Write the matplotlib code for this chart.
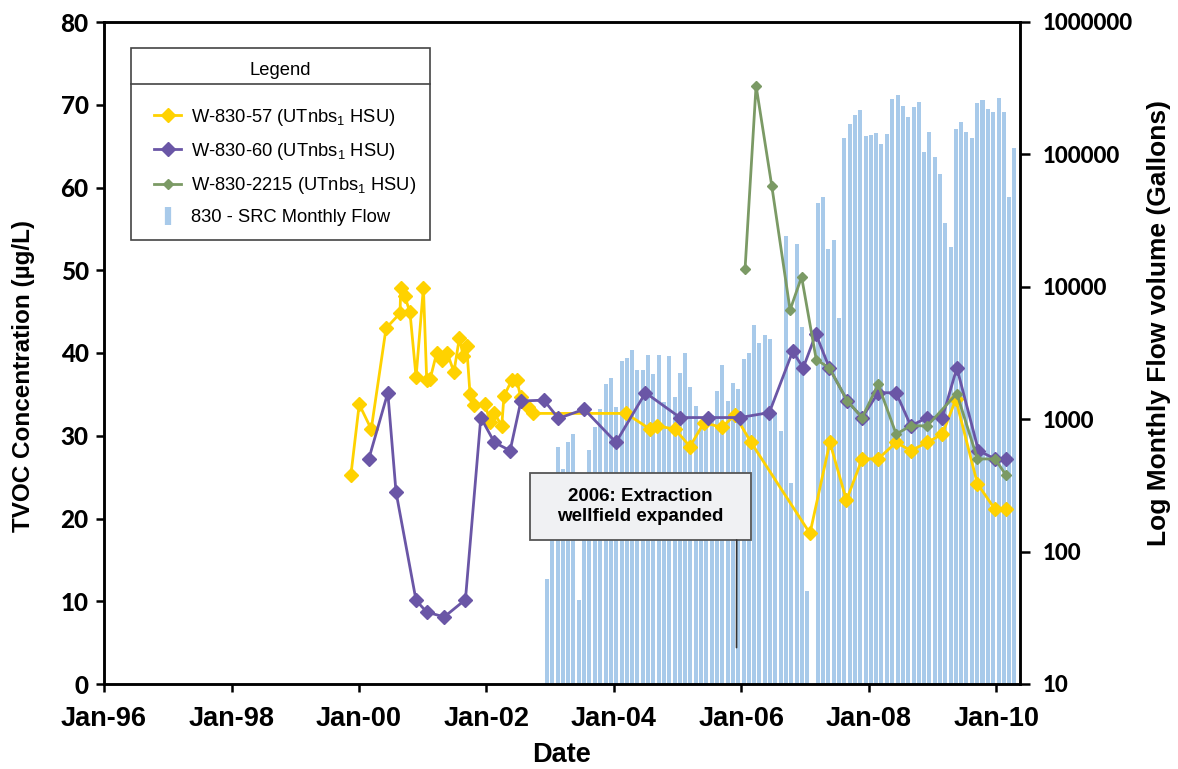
import matplotlib
matplotlib.use('Agg')
import matplotlib.pyplot as plt
from matplotlib.lines import Line2D
from matplotlib.patches import Rectangle
from matplotlib.legend_handler import HandlerLine2D
from matplotlib.ticker import NullLocator, FuncFormatter
import numpy as np
import pandas as pd

plt.rcParams.update({
    'font.family': ['Liberation Sans', 'DejaVu Sans'],
    'axes.linewidth': 1.8,
    'mathtext.fontset': 'custom',
    'mathtext.rm': 'Liberation Sans',
})

NARROW = ['Liberation Sans Narrow', 'Liberation Sans', 'DejaVu Sans']
HEAVY = ['Lato', 'Liberation Sans', 'DejaVu Sans']

YELLOW = '#FFD200'
PURPLE = '#6A56A6'
GREEN = '#7B9A65'
BLUE = '#A8CAEA'

# ---- monthly flow (gallons), Dec 2002 .. Apr 2010, nan = no record ----
flow_first_month = '2002-12-01'
flow_gallons = [61, 392, 617, 421, 673, 773, 42, 245, 585, 873,
                1194, 1845, 2047, 1236, 2752, 2900, 3333, 2353, 2353, 3055,
                2195, 3055, 1349, 3000, 1471, 2233, 3162, 1750, 1259, 858,
                904, 1076, 1633, 2566, 1372, 1877, 1690, 2849, 3162, 5142,
                3764, 4325, 4035, 1095, 814, 24200, 330, 21040, 4970, 49,
                np.nan, 42950, 47650, 19310, 22550, 5810, 133000, 169800, 198600, 216500,
                137700, 140200, 145200, 119900, 142600, 261900, 281000, 232200, 191600, 228100,
                248800, 104200, 147700, 95500, 71100, 30300, 20000, 155500, 175800, 147700,
                133000, 244300, 257600, 220300, 209000, 266700, 209000, 47650, 111700]

# ---- TVOC (ug/L) ----
w57_dates = ['1999-11-16', '2000-01-03', '2000-03-12', '2000-06-05', '2000-08-24',
             '2000-08-28', '2000-09-20', '2000-10-20', '2000-11-24', '2001-01-05',
             '2001-01-24', '2001-02-12', '2001-03-22', '2001-04-20', '2001-05-22',
             '2001-06-29', '2001-07-30', '2001-08-22', '2001-09-10', '2001-09-29',
             '2001-10-22', '2001-12-24', '2002-01-22', '2002-02-14', '2002-03-30',
             '2002-04-12', '2002-05-26', '2002-06-24', '2002-07-17', '2002-08-29',
             '2002-09-27', '2004-03-11', '2004-07-27', '2004-09-04', '2004-12-17',
             '2005-03-13', '2005-06-02', '2005-09-11', '2005-11-26', '2006-02-26',
             '2007-01-30', '2007-05-24', '2007-08-27', '2007-11-25', '2008-02-25',
             '2008-06-07', '2008-08-30', '2008-12-03', '2009-02-27', '2009-05-15',
             '2009-09-16', '2009-12-26', '2010-02-25']
w57_tvoc = [25.2, 33.8, 30.8, 43.0, 44.8, 47.9, 46.9, 44.9, 37.1, 47.9,
            36.7, 36.8, 40.0, 39.2, 40.0, 37.7, 41.8, 39.6, 40.8, 35.1,
            33.7, 33.8, 31.7, 32.8, 31.2, 34.8, 36.7, 36.7, 34.7, 33.5,
            32.7, 32.7, 30.8, 31.2, 30.8, 28.7, 31.6, 31.0, 32.5, 29.2,
            18.2, 29.2, 22.2, 27.2, 27.2, 29.2, 28.2, 29.2, 30.2, 34.4,
            24.2, 21.1, 21.1]

w60_dates = ['2000-02-27', '2000-06-15', '2000-08-01', '2000-11-24', '2001-01-24',
             '2001-05-04', '2001-09-03', '2001-11-30', '2002-02-16', '2002-05-17',
             '2002-07-18', '2002-11-27', '2003-02-18', '2003-07-16', '2004-01-14',
             '2004-07-01', '2005-01-15', '2005-06-27', '2005-12-25', '2006-06-11',
             '2006-10-23', '2006-12-22', '2007-03-05', '2007-05-21', '2007-09-01',
             '2007-11-25', '2008-02-25', '2008-06-07', '2008-08-30', '2008-12-03',
             '2009-02-27', '2009-05-21', '2009-09-22', '2009-12-26', '2010-02-25']
w60_tvoc = [27.2, 35.2, 23.2, 10.1, 8.7, 8.1, 10.2, 32.2, 29.2, 28.2,
            34.2, 34.3, 32.1, 33.2, 29.2, 35.2, 32.2, 32.2, 32.2, 32.8,
            40.2, 38.2, 42.3, 38.2, 34.2, 32.2, 35.2, 35.2, 31.2, 32.2,
            32.2, 38.2, 28.2, 27.2, 27.2]

w2215_dates = ['2006-01-23', '2006-03-27', '2006-06-25', '2006-10-08', '2006-12-13',
               '2007-03-07', '2007-05-21', '2007-09-01', '2007-11-25', '2008-02-25',
               '2008-06-07', '2008-08-30', '2008-12-03', '2009-05-21', '2009-09-16',
               '2009-12-26', '2010-02-25']
w2215_tvoc = [50.2, 72.3, 60.2, 45.2, 49.2, 39.2, 38.2, 34.2, 32.2, 36.2,
              30.2, 31.2, 31.2, 35.1, 27.2, 27.2, 25.3]

series_labels = ['W-830-57 (UTnbs$_\\mathregular{1}$ HSU)',
                 'W-830-60 (UTnbs$_\\mathregular{1}$ HSU)',
                 'W-830-2215 (UTnbs$_\\mathregular{1}$ HSU)',
                 '830 - SRC Monthly Flow']

tvoc_ticks = [0, 10, 20, 30, 40, 50, 60, 70, 80]
flow_ticks = [10, 100, 1000, 10000, 100000, 1000000]
year_ticks = pd.date_range('1996-01-01', '2010-01-01', freq='24MS')

# ---- figure ----
fig = plt.figure(figsize=(11.78, 7.69), dpi=100)
ax = fig.add_axes([104 / 1178, 85 / 769, 916 / 1178, 662 / 769])
ax2 = ax.twinx()
ax.set_zorder(ax2.get_zorder() + 1)
ax.patch.set_visible(False)

flow_dates = pd.date_range(flow_first_month, periods=len(flow_gallons), freq='MS') + pd.Timedelta(days=14)
ax2.bar(flow_dates, flow_gallons, width=23, bottom=1, color=BLUE, linewidth=0)
ax2.set_yscale('log')
ax2.set_ylim(10, 1e6)
ax2.set_yticks(flow_ticks)
ax2.yaxis.set_minor_locator(NullLocator())
ax2.yaxis.set_major_formatter(FuncFormatter(lambda v, p: f'{int(v)}'))
ax2.tick_params(axis='y', length=7, width=1.8, pad=9, labelsize=16)
for t in ax2.get_yticklabels():
    t.set_fontfamily(HEAVY)
    t.set_fontweight('black')
ax2.set_ylabel('Log Monthly Flow volume (Gallons)', fontsize=19, fontweight='bold')
ax2.yaxis.set_label_coords(1.139, 0.545)

l1, = ax.plot(pd.to_datetime(w57_dates), w57_tvoc, color=YELLOW, lw=2.0,
              marker='D', ms=7, mec=YELLOW)
l2, = ax.plot(pd.to_datetime(w60_dates), w60_tvoc, color=PURPLE, lw=2.0,
              marker='D', ms=7, mec=PURPLE)
l3, = ax.plot(pd.to_datetime(w2215_dates), w2215_tvoc, color=GREEN, lw=2.0,
              marker='D', ms=5, mec=GREEN)

ax.set_ylim(0, 80)
ax.set_yticks(tvoc_ticks)
ax.set_xlim(pd.Timestamp('1996-01-01'), pd.Timestamp('2010-05-18'))
ax.set_xticks(year_ticks)
ax.set_xticklabels([d.strftime('%b-%y') for d in year_ticks])
ax.tick_params(axis='y', length=6, width=1.8, pad=5, labelsize=17.5)
ax.tick_params(axis='x', length=6, width=1.8, pad=10, labelsize=19.5)
for t in ax.get_yticklabels():
    t.set_fontfamily(HEAVY)
    t.set_fontweight('black')
for t in ax.get_xticklabels():
    t.set_fontfamily(NARROW)
    t.set_fontweight('bold')

ax.set_xlabel('Date', fontsize=19.5, fontweight='bold', fontfamily=NARROW, labelpad=7)
ax.set_ylabel('TVOC Concentration (\u00b5g/L)', fontsize=17.5, fontweight='bold',
              fontfamily=NARROW)
ax.yaxis.set_label_coords(-0.075, 0.465)

# annotation box
ax.add_patch(Rectangle((0.465, 0.2175), 0.241, 0.1008, transform=ax.transAxes,
                       facecolor='#F0F1F3', edgecolor='#555555', lw=1.3, zorder=3))
ax.text(0.585, 0.268, '2006: Extraction\nwellfield expanded', transform=ax.transAxes,
        ha='center', va='center', fontsize=13.5, fontweight='bold', zorder=4)
ax.annotate('', xy=(pd.Timestamp('2005-12-05'), 4.4), xytext=(0.6907, 0.2175),
            textcoords='axes fraction',
            arrowprops=dict(arrowstyle='-', color='#333333', lw=1.2, shrinkA=0, shrinkB=0))

# legend
bar_handle = Line2D([], [], ls='none', marker='|', ms=13, mew=4.5, color=BLUE)
leg = ax.legend([l1, l2, l3, bar_handle], series_labels, loc='upper left',
                bbox_to_anchor=(27 / 916, 636 / 662), borderaxespad=0,
                title='Legend', fontsize=13.2, title_fontsize=13.2,
                frameon=True, fancybox=False, edgecolor='#444444', framealpha=1,
                borderpad=0.75, labelspacing=0.72, handlelength=2.0,
                handletextpad=0.5, handler_map={Line2D: HandlerLine2D(xpad=0.5)})
leg.get_frame().set_linewidth(1.2)
leg._legend_box.sep = 20

fig.canvas.draw()
tb = leg.get_title().get_window_extent()
lb = leg.get_window_extent()
ysep = (tb.y0 + tb.y1) / 2 - 14
inv = fig.transFigure.inverted()
(x0, y0), (x1, _) = inv.transform([(lb.x0, ysep), (lb.x1, ysep)])
fig.add_artist(Line2D([x0, x1], [y0, y0], color='#444444', lw=1.2))

fig.savefig('out.png', dpi=100)
